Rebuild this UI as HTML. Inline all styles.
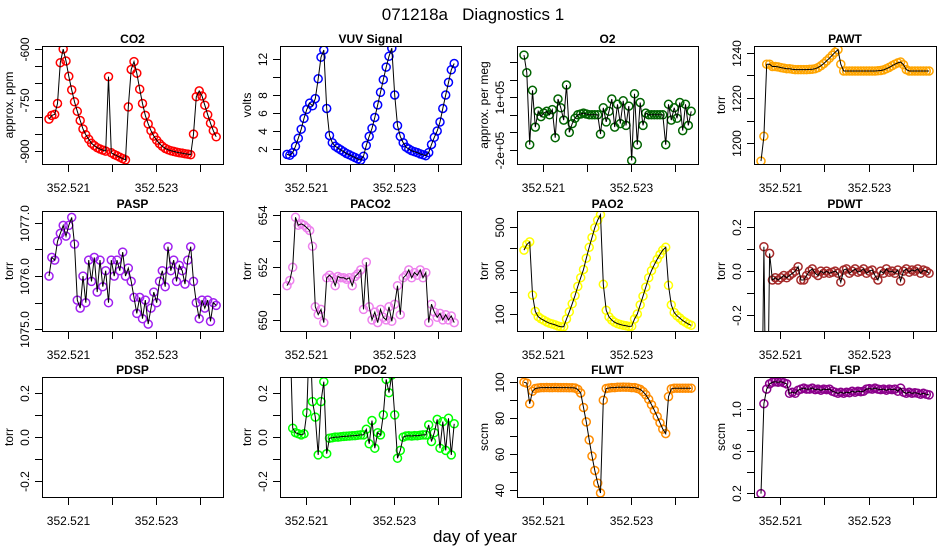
<!DOCTYPE html>
<html><head><meta charset="utf-8"><style>
html,body{margin:0;padding:0;background:#fff;}
svg{display:block;font-family:"Liberation Sans",sans-serif;}
</style></head><body>
<svg id="chart" width="950" height="550" viewBox="0 0 950 550">
<text x="473" y="20" font-size="17" text-anchor="middle">071218a&#160;&#160;&#160;Diagnostics 1</text>
<text x="475" y="542" font-size="17" text-anchor="middle">day of year</text>
</svg>
<script>
const xTickValues=[352.521,352.522,352.523,352.524];
const xTickLabels=["352.521","","352.523",""];
const tStart=352.520569, tEnd=352.524365;
const co2=[-806,-795,-792,-760,-640,-600,-635,-680,-720,-755,-783,-810,-835,-852,-865,-877,-884,-890,-894,-897,-900,-681,-905,-910,-914,-918,-922,-926,-770,-660,-637,-671,-718,-760,-795,-820,-840,-856,-868,-878,-886,-892,-896,-899,-901,-903,-905,-906,-908,-909,-911,-850,-740,-723,-738,-765,-793,-818,-840,-858];
const vuv=[1.4,1.3,1.6,2.3,3.2,4.2,5.4,6.4,7.1,6.8,7.6,9.8,12.2,13.0,6.5,3.5,2.7,2.3,2.1,1.9,1.7,1.5,1.35,1.2,1.05,0.9,0.75,1.2,2.4,3.4,4.3,5.5,6.9,8.3,9.7,11.1,12.3,13.2,8.0,4.6,3.4,2.7,2.2,2.0,1.8,1.7,1.6,1.45,1.35,1.25,1.6,2.5,3.3,4.0,5.0,6.5,8.0,9.4,10.8,11.5];
const o2=[3.4,2.4,-1.7,1.4,-0.7,0.2,-0.1,0.1,0.2,0.0,0.3,-1.3,0.9,0.4,-0.3,1.7,-1.0,-0.5,-0.2,0.0,0.05,0.1,0.05,0,0,0,0,-1.1,0.4,-0.4,0.2,0.9,-0.7,0.6,-0.5,0.8,-0.6,0.5,-2.6,1.2,-1.7,0.7,-0.6,0.1,0,0,0,0,0,0,-1.7,0.6,-0.3,0.4,-0.2,0.7,-0.9,0.6,-0.6,0.2].map(v=>v*1e5);
const pawt=[1192,1203,1235,1235,1234,1234,1233.8,1233.5,1233.3,1233,1233,1232.8,1232.6,1232.6,1232.6,1232.6,1232.6,1232.7,1232.8,1233,1233.5,1234.3,1235.3,1236.5,1237.7,1239,1240.3,1241.5,1235,1232,1232,1232,1232,1232,1232,1232,1232,1232,1232,1232,1232,1232.1,1232.2,1232.5,1233,1233.6,1234.3,1235,1235.6,1236,1234.8,1232.6,1232,1232,1232,1232,1232,1232,1232,1232];
const pasp=[1076.0,1076.35,1076.3,1076.65,1076.8,1076.95,1076.75,1076.95,1077.1,1076.6,1075.55,1075.4,1076.0,1075.5,1076.3,1075.9,1076.35,1075.7,1076.3,1075.8,1076.1,1075.5,1076.3,1076.0,1076.3,1076.1,1076.45,1076.0,1076.15,1075.9,1075.6,1075.3,1075.6,1075.2,1075.55,1075.1,1075.4,1075.7,1075.5,1075.9,1076.1,1075.8,1076.55,1076.1,1076.3,1075.9,1076.2,1076.1,1075.85,1076.3,1076.55,1075.9,1075.5,1075.2,1075.55,1075.4,1075.55,1075.15,1075.5,1075.45];
const paco2=[651.3,651.5,652.0,653.9,653.6,653.65,653.6,653.5,653.4,652.8,650.5,650.2,650.4,649.9,651.6,651.7,651.6,651.3,651.65,651.6,651.6,651.55,651.6,651.3,651.65,651.75,651.9,650.4,652.2,650.5,650.0,650.3,649.9,650.4,650.1,650.0,650.5,649.95,650.6,651.3,650.2,651.6,651.7,651.9,651.6,651.8,651.7,651.9,651.6,651.8,649.9,650.6,650.3,650.1,650.25,650.0,650.2,650.0,650.15,649.9];
const pao2=[392,418,430,185,110,86,76,69,62,56,52,48,43,40,40,75,108,145,183,225,265,303,355,405,450,495,530,555,235,115,85,70,60,54,50,46,44,41,42,75,98,140,180,222,265,298,325,350,372,392,405,230,140,105,90,80,68,60,52,46];
const pdwt=[-1,0.11,-1,0.08,-0.04,-0.03,-0.04,-0.03,-0.02,-0.03,-0.02,-0.01,0.0,0.02,-0.04,-0.04,-0.02,0.0,0.01,-0.01,-0.02,0.0,-0.01,0.0,-0.01,-0.005,0.0,-0.01,-0.05,0.005,0.01,-0.01,0.0,0.01,-0.005,0.0,0.01,-0.01,0.0,0.005,-0.02,-0.04,0.0,-0.01,0.01,-0.005,0.0,-0.01,0.005,-0.045,0.0,0.01,-0.005,0.005,0.0,0.01,-0.01,0.005,0.0,-0.01];
const pdsp=[];
const pdo2=[0.6,0.5,0.04,0.02,0.015,0.01,0.015,0.11,0.5,0.16,0.09,-0.08,0.16,0.25,-0.075,-0.005,-0.003,0.0,0.0,0.002,0.003,0.004,0.005,0.006,0.007,0.008,0.01,0.01,0.035,-0.03,0.075,-0.05,0.02,0.01,0.1,0.26,0.2,0.28,0.1,-0.095,-0.06,0.0,0.005,0.006,0.005,0.007,0.006,0.008,0.01,0.01,0.055,-0.02,0.02,0.08,-0.05,0.07,-0.06,0.085,-0.08,0.06];
const flwt=[100,99.5,88,95,96.5,96.8,97,97,97.1,97,97,97.1,97,97,97,97,96.9,96.9,96.8,96,94,86,78,68,59,51,44,38.5,90,96.5,96.8,97,97,97.2,97.2,97.3,97.2,97.2,97,97,96.6,96,94.8,93,90.5,87.5,84.5,81,77.5,74,71.5,92,96.3,96.7,96.7,96.7,96.7,96.7,96.7,96.7];
const flsp=[0.19,1.05,1.19,1.24,1.255,1.26,1.255,1.26,1.25,1.24,1.15,1.16,1.15,1.18,1.19,1.2,1.19,1.19,1.2,1.185,1.19,1.18,1.19,1.185,1.19,1.17,1.16,1.15,1.16,1.15,1.16,1.155,1.17,1.16,1.17,1.165,1.17,1.19,1.195,1.19,1.2,1.19,1.185,1.19,1.18,1.19,1.185,1.19,1.17,1.2,1.16,1.15,1.16,1.15,1.155,1.15,1.14,1.15,1.14,1.135];

const NS="http://www.w3.org/2000/svg";
const svg=document.getElementById('chart');
function mk(tag,attrs,parent){const e=document.createElementNS(NS,tag);for(const k in attrs)e.setAttribute(k,attrs[k]);(parent||svg).appendChild(e);return e;}
const colL=[42,280,517,754], colW=[181,181,181,182];
const rowT=[46,211,377], rowH=[118,120,120];
const panels=[
 {name:'co2',title:'CO2',ylab:'approx. ppm',data:co2,color:'#ff0000',dom:[-938,-591],ticks:[-600,-650,-700,-750,-800,-850,-900],labels:{'-600':'-600','-750':'-750','-900':'-900'}},
 {name:'vuv',title:'VUV Signal',ylab:'volts',data:vuv,color:'#0000ff',dom:[0.33,13.44],ticks:[2,4,6,8,10,12],labels:{'2':'2','4':'4','6':'6','8':'8','12':'12'}},
 {name:'o2',title:'O2',ylab:'approx. per meg',data:o2,color:'#006400',dom:[-2.8e5,3.92e5],ticks:[-2e5,-1e5,0,1e5,2e5,3e5],labels:{'-200000':'-2e+05','100000':'1e+05'}},
 {name:'pawt',title:'PAWT',ylab:'torr',data:pawt,color:'#ffa500',dom:[1190.7,1243.1],ticks:[1200,1210,1220,1230,1240],labels:{'1200':'1200','1220':'1220','1240':'1240'}},
 {name:'pasp',title:'PASP',ylab:'torr',data:pasp,color:'#a020f0',dom:[1074.97,1077.22],ticks:[1075,1075.5,1076,1076.5,1077],labels:{'1075':'1075.0','1076':'1076.0','1077':'1077.0'}},
 {name:'paco2',title:'PACO2',ylab:'torr',data:paco2,color:'#ee82ee',dom:[649.58,654.14],ticks:[650,651,652,653,654],labels:{'650':'650','652':'652','654':'654'}},
 {name:'pao2',title:'PAO2',ylab:'torr',data:pao2,color:'#ffff00',dom:[20,572],ticks:[100,200,300,400,500],labels:{'100':'100','300':'300','500':'500'}},
 {name:'pdwt',title:'PDWT',ylab:'torr',data:pdwt,color:'#a52a2a',dom:[-0.27,0.271],ticks:[-0.2,-0.1,0,0.1,0.2],labels:{'-0.2':'-0.2','0':'0.0','0.2':'0.2'}},
 {name:'pdsp',title:'PDSP',ylab:'torr',data:pdsp,color:'#000000',dom:[-0.27,0.271],ticks:[-0.2,-0.1,0,0.1,0.2],labels:{'-0.2':'-0.2','0':'0.0','0.2':'0.2'}},
 {name:'pdo2',title:'PDO2',ylab:'torr',data:pdo2,color:'#00ff00',dom:[-0.27,0.271],ticks:[-0.2,-0.1,0,0.1,0.2],labels:{'-0.2':'-0.2','0':'0.0','0.2':'0.2'}},
 {name:'flwt',title:'FLWT',ylab:'sccm',data:flwt,color:'#ff8c00',dom:[36.3,102.9],ticks:[40,50,60,70,80,90,100],labels:{'40':'40','60':'60','80':'80','100':'100'}},
 {name:'flsp',title:'FLSP',ylab:'sccm',data:flsp,color:'#8b008b',dom:[0.157,1.306],ticks:[0.2,0.4,0.6,0.8,1.0],labels:{'0.2':'0.2','0.6':'0.6','1':'1.0'}}
];
const xMin=352.52041, xMax=352.52452;
panels.forEach((p,k)=>{
 const c=k%4, r=Math.floor(k/4);
 const L=colL[c], W=colW[c], T=rowT[r], H=rowH[r];
 const xs=v=>L+(v-xMin)/(xMax-xMin)*W;
 const ys=v=>T+H-(v-p.dom[0])/(p.dom[1]-p.dom[0])*H;
 const g=mk('g',{});
 
 
 const cp=mk('clipPath',{id:'clip'+k},g);
 mk('rect',{x:L,y:T,width:W,height:H},cp);
 const t=mk('text',{x:L+W/2,y:T-3,'font-size':12,'font-weight':'bold','text-anchor':'middle'},g);
 t.textContent=p.title;
 
 
 const n=p.data.length;
 if(n){
  const tx=i=>tStart+(tEnd-tStart)*i/(n-1);
  const dg=mk('g',{'clip-path':'url(#clip'+k+')'},g);
  
  
  p.data.forEach((v,i)=>{
   const ci=mk('circle',{cx:xs(tx(i)).toFixed(1),cy:ys(v).toFixed(1),r:4,fill:'none',stroke:p.color,'stroke-width':1.5},dg);
   
   
  });
  const pts=p.data.map((v,i)=>xs(tx(i)).toFixed(1)+','+ys(v).toFixed(1)).join(' ');
  const pl=mk('polyline',{points:pts,fill:'none',stroke:'#000','stroke-width':1},dg);
  
  
 }
 const box=mk('rect',{x:L+0.5,y:T+0.5,width:W,height:H,fill:'none',stroke:'#000','stroke-width':1},g);
 
 
 xTickValues.forEach((v,i)=>{
  const x=Math.round(xs(v))+0.5;
  mk('line',{x1:x,x2:x,y1:T+H,y2:T+H+8,stroke:'#000'},g);
  if(xTickLabels[i]){
   const tl=mk('text',{x:x,y:T+H+28,'font-size':12,'text-anchor':'middle'},g);
   tl.textContent=xTickLabels[i];
   
   
  }
 });
 p.ticks.forEach(v=>{
  const y=Math.round(ys(v))+0.5;
  mk('line',{x1:L-7,x2:L,y1:y,y2:y,stroke:'#000'},g);
  const lab=p.labels[String(v)];
  if(lab){
   const tl=mk('text',{x:0,y:0,'font-size':12,'text-anchor':'middle',transform:'translate('+(L-13)+','+y+') rotate(-90)'},g);
   tl.textContent=lab;
   
   
  }
 });
 const yl=mk('text',{x:0,y:0,'font-size':12,'text-anchor':'middle',transform:'translate('+(L-29)+','+(T+H/2)+') rotate(-90)'},g);
 yl.textContent=p.ylab;
 
 
});
</script>
</body></html>
